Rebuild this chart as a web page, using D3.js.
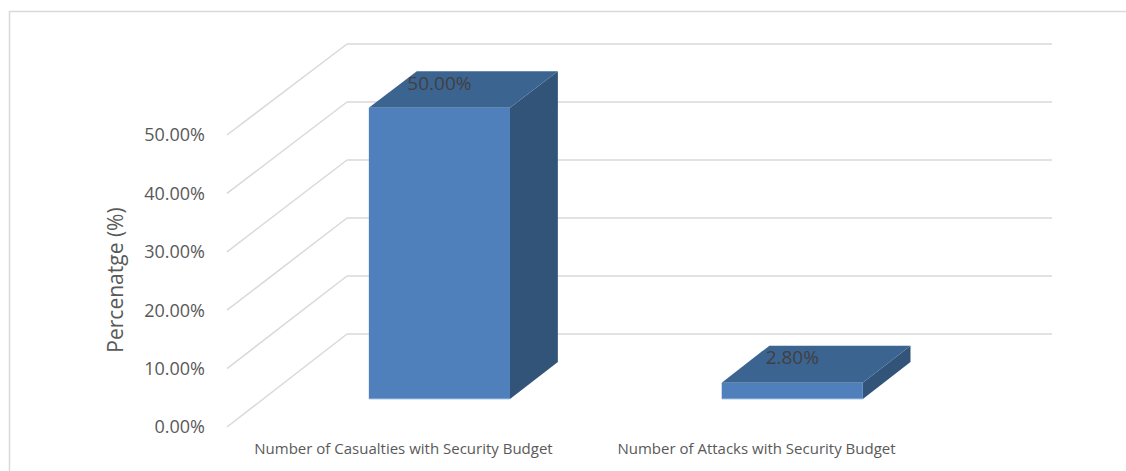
<!DOCTYPE html>
<html>
<head>
<meta charset="utf-8">
<script src="https://cdn.jsdelivr.net/npm/d3@7"></script>
<style>
  html, body { margin: 0; padding: 0; background: #ffffff; }
  svg { display: block; }
  text { font-family: "Open Sans", "Liberation Sans", sans-serif; }
</style>
</head>
<body>
<svg id="chart" width="1126" height="471"></svg>
<script>
// ---- data ----
const categories = ["Number of Casualties with Security Budget", "Number of Attacks with Security Budget"];
const values = [0.50, 0.028];
const valueLabels = ["50.00%", "2.80%"];
const yTicks = [0, 0.1, 0.2, 0.3, 0.4, 0.5];
const yTitle = "Percenatge (%)";

// ---- layout ----
const W = 1126, H = 471;
const svg = d3.select("#chart");

// front plane & back plane of the 3D box
const xFront = d3.scaleBand().domain(categories).range([227, 933]).padding(0);
const xBack  = d3.scaleBand().domain(categories).range([347, 1052]).padding(0);
const yFront = d3.scaleLinear().domain([0, 0.5]).range([427, 135]);
const yBack  = d3.scaleLinear().domain([0, 0.5]).range([334, 44]);

const lerp = (a, b, t) => a + (b - a) * t;
function proj(cat, frac, v, d) {
  const xf = xFront(cat) + frac * xFront.bandwidth();
  const xb = xBack(cat) + frac * xBack.bandwidth();
  return [lerp(xf, xb, d), lerp(yFront(v), yBack(v), d)];
}

// chart border
svg.append("rect")
  .attr("x", 9.5).attr("y", 11.5)
  .attr("width", W + 20).attr("height", H + 20)
  .attr("fill", "none").attr("stroke", "#d9d9d9").attr("stroke-width", 1.5);

const grid = svg.append("g");
grid.selectAll("line.back").data(yTicks).join("line")
  .attr("class", "back")
  .attr("x1", xBack.range()[0]).attr("x2", xBack.range()[1])
  .attr("y1", d => yBack(d)).attr("y2", d => yBack(d))
  .attr("stroke", "#d9d9d9").attr("stroke-width", 1.5);
grid.selectAll("line.side").data(yTicks).join("line")
  .attr("class", "side")
  .attr("x1", xFront.range()[0]).attr("x2", xBack.range()[0])
  .attr("y1", d => yFront(d)).attr("y2", d => yBack(d))
  .attr("stroke", "#d9d9d9").attr("stroke-width", 1.5);

// y tick labels
svg.append("g").selectAll("text").data(yTicks).join("text")
  .attr("x", 205)
  .attr("y", d => yFront(d) + 1.5)
  .attr("text-anchor", "end")
  .attr("dominant-baseline", "middle")
  .attr("font-size", 18)
  .attr("fill", "#595959")
  .text(d => d3.format(".2%")(d));

// y title
svg.append("text")
  .attr("transform", "translate(117,280) rotate(-90)")
  .attr("text-anchor", "middle")
  .attr("dominant-baseline", "middle")
  .attr("font-size", 21)
  .attr("fill", "#595959")
  .text(yTitle);

// bars
const data = categories.map((c, i) => ({ c, v: values[i], label: valueLabels[i] }));
const f0 = 0.3, f1 = 0.7, d0 = 0.3, d1 = 0.7;
const bars = svg.append("g").selectAll("g").data(data).join("g");
const poly = pts => "M" + pts.map(p => p.join(",")).join("L") + "Z";

bars.append("path")
  .attr("d", d => poly([proj(d.c, f1, 0, d0), proj(d.c, f1, 0, d1), proj(d.c, f1, d.v, d1), proj(d.c, f1, d.v, d0)]))
  .attr("fill", "#335479");
bars.append("path")
  .attr("d", d => poly([proj(d.c, f0, d.v, d0), proj(d.c, f1, d.v, d0), proj(d.c, f1, d.v, d1), proj(d.c, f0, d.v, d1)]))
  .attr("fill", "#3c6491");
bars.append("path")
  .attr("d", d => poly([proj(d.c, f0, 0, d0), proj(d.c, f1, 0, d0), proj(d.c, f1, d.v, d0), proj(d.c, f0, d.v, d0)]))
  .attr("fill", "#4f80bc");
bars.append("line")
  .attr("x1", d => proj(d.c, f0, 0, d0)[0]).attr("x2", d => proj(d.c, f1, 0, d0)[0])
  .attr("y1", d => proj(d.c, f0, 0, d0)[1]).attr("y2", d => proj(d.c, f1, 0, d0)[1])
  .attr("stroke", "#bcd0ea").attr("stroke-width", 1);

// value labels
bars.append("text")
  .attr("x", d => proj(d.c, 0.5, d.v, d0)[0])
  .attr("y", d => (proj(d.c, 0.5, d.v, d0)[1] + proj(d.c, 0.5, d.v, d1)[1]) / 2 - 5)
  .attr("text-anchor", "middle")
  .attr("dominant-baseline", "middle")
  .attr("font-size", 19)
  .attr("fill", "#404040")
  .text(d => d.label);

// category labels
svg.append("g").selectAll("text").data(categories).join("text")
  .attr("x", d => xFront(d) + xFront.bandwidth() / 2)
  .attr("y", 450)
  .attr("text-anchor", "middle")
  .attr("dominant-baseline", "middle")
  .attr("font-size", 15)
  .attr("fill", "#595959")
  .text(d => d);
</script>
</body>
</html>
